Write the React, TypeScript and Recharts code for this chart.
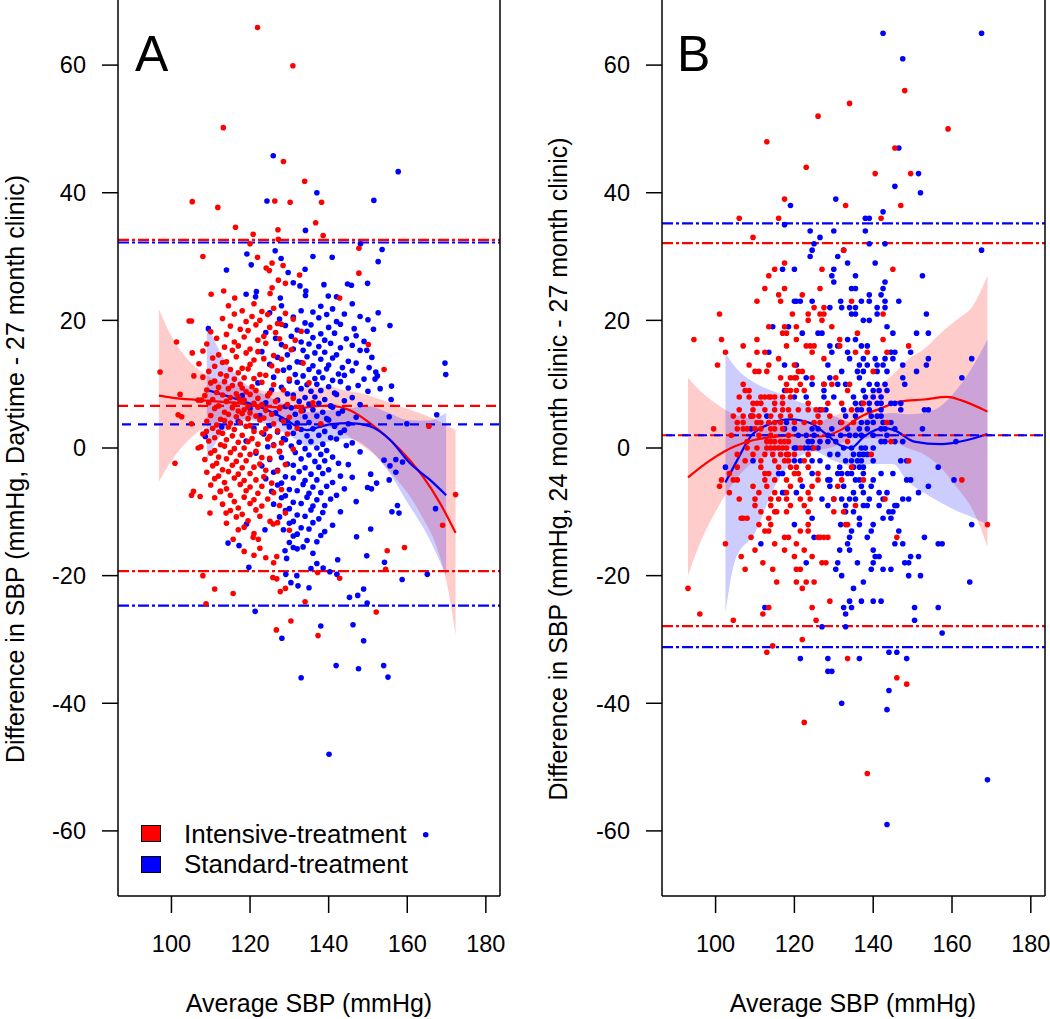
import React from "react";
import { ComposedChart, Scatter, Line, Area, XAxis, YAxis, ReferenceLine } from "recharts";

type P = [number, number];
type Row = [number, number[]];
type B = [number, number, number];

const FONT = '"Liberation Sans", Arial, Helvetica, sans-serif';
const RED = "#ff0000";
const BLUE = "#0000ff";

const xTicks = [100, 120, 140, 160, 180];
const yTicks = [-60, -40, -20, 0, 20, 40, 60];
const xDomain: [number, number] = [86.4, 183.6];
const yDomain: [number, number] = [-70.2, 70.2];

// ---------- panel A (daytime ABPM vs 27 month clinic) ----------
const aRedSparse: P[] = [
  [121.9,65.9],[130.9,59.9],[113.2,50.2],[128.5,44.9],[133.9,41.8],[105.3,38.6],[126.3,38.7],[130.2,38.5],
  [111.8,37.7],[116.3,34.6],[127.1,34.2],[120.8,33.5],[136.7,35.3],[120.0,32.0],[127.2,32.7],[108.0,30.0],
  [121.9,29.9],[124.1,28.2],[124.9,27.8],[125.6,29.0],[128.4,28.6],[132.6,27.1],[127.2,26.3],[129.0,25.8],
  [125.6,25.1],[110.1,24.1],[113.3,24.6],[125.1,24.2],[116.1,23.5],[138.2,38.5],[138.6,33.3],[147.7,31.3],
  [147.7,27.4],[142.8,23.5],[104.5,19.9],[105.1,19.9],[101.3,16.6],[105.3,14.9],[97.1,11.9],[105.7,11.3],
  [102.2,8.4],[106.8,7.5],[107.6,7.5],[101.7,5.2],[102.6,4.9],[105.1,3.8],[100.9,-2.4],[106.8,0],
  [108.9,2.6],[105.6,-6.8],[105.1,-7.4],[107.3,-7.6],[109.8,-10.2],[113.9,-10.2],[112.4,-6.8],[115.7,-14.3],
  [120.8,-14.0],[122.1,-14.3],[122.5,-15.7],[125.1,-11.5],[125.9,-11.9],[124.0,-17.2],[126.8,-17.0],
  [154.1,12.3],[150.1,16.2],[165.5,3.4],[172.3,-7.3],[169.0,-12.1],[154.9,-16.1],[159.3,-15.6],
  [108.0,-20.0],[111.0,-22.1],[115.7,-22.8],[108.8,-24.4],[126.0,-18.0],[125.8,-20.3],[126.8,-20.5],
  [129.0,-22.0],[127.7,-22.5],[134.0,-24.1],[137.2,-19.5],[142.8,-20.4],[152.1,-25.7],[154.5,-19.0],
  [130.4,-27.1],[126.7,-28.5],[137.3,-29.4],
];
const aRedDense: P[] = [
  [114.5,22.3],[118,21.5],[121,22.6],[126,21.9],
  [116,21.0],[120.5,20.6],[123,21.4],[124.5,20.9],[129,21.1],
  [113,20.3],[119,19.8],[122.5,20.0],[127,19.5],[131,20.2],
  [115,19.1],[117.5,18.6],[121.5,19.3],[125,18.9],[128,19.4],
  [110,18.2],[114,17.8],[119.5,18.4],[123.5,17.5],[126.5,18.1],[133,18.3],
  [111.5,17.2],[116,16.6],[118.5,17.4],[122,16.9],[127.5,17.1],[131.5,16.9],
  [109,16.3],[113.5,15.8],[117,16.0],[120,15.5],[124,16.4],[129,15.9],
  [108,15.2],[112,14.6],[115.5,15.3],[119,14.9],[122,15.1],[126,14.5],[130.5,15.4],
  [110.5,14.1],[114,13.5],[116.5,14.3],[121,13.8],[123.5,14.0],[128,13.9],
  [107,13.2],[111,12.8],[113,13.4],[118,12.5],[120,13.1],[125.5,12.9],[133.5,13.3],
  [109.5,12.0],[112.5,11.6],[115,12.3],[117,11.8],[119.5,12.4],[122.5,11.5],[127,12.1],
  [108,11.1],[111,10.5],[114,11.3],[116,10.8],[118.5,11.0],[121,10.9],[124,11.4],[130,10.8],
  [110,10.2],[112,9.5],[113.5,10.4],[115.5,9.8],[117.5,10.0],[120.5,9.6],[123,10.3],[126,9.9],[135,10.2],
  [109,9.1],[111.5,8.7],[114.5,9.3],[116.5,8.5],[118,9.4],[119,8.8],[121.5,9.0],[125,8.6],[128.5,9.1],
  [108.5,8.2],[110.5,7.6],[113,8.3],[115,7.9],[117,8.0],[118.5,7.5],[120,8.4],[122,7.8],[124.5,8.2],[131,7.8],
  [109.5,7.1],[112,6.6],[114,7.3],[116,6.9],[117.5,7.4],[119.5,6.5],[121,7.0],[123,6.8],[126.5,7.3],[129.5,6.8],[136,7.1],
  [111,6.2],[113.5,5.6],[115.5,6.3],[117,5.8],[118.5,6.0],[120,5.5],[122,6.4],[124,5.9],[127.5,6.2],[133,5.8],
  [110,5.1],[112.5,4.5],[114.5,5.3],[116.5,4.9],[118,5.4],[119.5,4.6],[121.5,5.0],[123.5,4.7],[125.5,5.3],[130,4.8],
  [109,4.2],[111.5,3.6],[113.5,4.3],[115,3.9],[117.5,4.0],[120,3.5],[122.5,4.4],[126,3.8],[128.5,4.2],[138,3.8],
  [110.5,3.1],[112,2.5],[114.5,3.3],[116,2.9],[119,3.4],[121,2.6],[124,3.0],[127,2.7],[132,3.1],
  [108,2.2],[111,1.6],[113,2.3],[115.5,1.9],[118,2.0],[120.5,1.5],[123,2.4],[125,1.8],[129.5,2.2],
  [109.5,1.1],[112.5,0.5],[114,1.3],[117,0.9],[119.5,1.0],[122,0.6],[124.5,1.4],[128,0.8],
  [107.5,0.2],[111,-0.4],[113.5,0.3],[116,-0.1],[118.5,0.0],[121.5,-0.5],[126,0.4],[131,-0.2],
  [110,-0.8],[112,-1.4],[115,-0.7],[117.5,-1.1],[120,-1.0],[123,-1.5],[127.5,-0.6],
  [108.5,-1.8],[111.5,-2.4],[114,-1.7],[116.5,-2.1],[119,-2.0],[122.5,-2.5],[125,-1.6],
  [110.5,-2.8],[113,-3.4],[115.5,-2.7],[118,-3.1],[121,-3.0],[124,-3.5],[129,-2.6],
  [109,-3.8],[112,-4.4],[114.5,-3.7],[117,-4.1],[120,-4.0],[123.5,-4.5],[127,-3.6],
  [111,-4.8],[113.5,-5.4],[116,-4.7],[118.5,-5.1],[121.5,-5.0],[125.5,-5.5],
  [110,-5.8],[114,-6.4],[117.5,-5.7],[120,-6.1],[123,-6.0],[128,-6.5],
  [112.5,-6.8],[115,-7.4],[119,-6.7],[122,-7.1],[126,-7.0],
  [111,-7.8],[116,-8.4],[118.5,-7.7],[121,-8.1],[124.5,-8.0],
  [113,-8.8],[117,-9.4],[120,-8.7],[123,-9.1],[127.5,-9.0],
  [115,-9.8],[118,-10.4],[121.5,-9.7],[129,-10.2],
  [116.5,-10.8],[119.5,-11.4],[122.5,-10.7],
  [114,-11.8],[118.5,-12.4],[127,-11.7],
  [117,-12.8],[121,-13.4],[130,-12.9],
  [118.5,-16.2],[121,-16.8],
];
const aBlueSparse: P[] = [
  [125.9,45.8],[137.0,40.0],[124.3,38.7],[134.1,34.1],[119.2,30.4],[127.9,29.7],[136.0,30.0],[126.4,30.9],
  [114.0,27.9],[120.3,28.7],[129.7,27.5],[134.0,28.0],[131.0,25.9],[132.7,25.4],[119.0,24.1],[121.6,24.5],
  [121.4,23.7],[134.2,24.6],[134.1,23.9],[127.7,23.5],[157.7,43.3],[151.5,38.8],[148.1,32.0],[153.6,31.1],
  [140.9,29.9],[152.6,29.2],[138.8,25.6],[144.8,25.7],[145.8,25.5],[149.9,25.8],[139.9,23.8],[142.0,23.7],
  [109.4,18.7],[108.6,1.8],[112.8,3.3],[114.4,-14.9],[117.2,-15.3],[119.1,-11.9],[123.8,-12.8],[128.9,-16.1],
  [131.0,-15.6],[129.3,-17.3],[169.6,13.3],[169.8,11.5],[155.6,19.2],[152.6,21.2],[151.4,18.6],[149.7,15.3],
  [150.3,12.6],[152.0,11.9],[152.4,11.3],[151.8,10.8],[153.1,9.3],[156.0,9.7],[155.9,7.6],[167.5,5.2],
  [159.9,3.8],[155.4,4.9],[154.1,-1.9],[155.6,-2.8],[157.1,-1.8],[157.1,-3.8],[158.8,-2.2],[155.4,-5.0],
  [150.7,-4.1],[152.2,-5.5],[149.9,-6.2],[150.9,-6.4],[167.2,-9.5],[157.5,-9.0],[156.1,-10.0],[157.9,-10.2],
  [150.7,-12.7],[147.1,-13.9],[149.7,-16.9],[119.7,-18.7],[121.3,-25.6],[129.1,-19.8],[130.4,-21.1],
  [131.9,-20.0],[132.2,-21.6],[135.0,-21.9],[135.5,-18.9],[137.0,-18.1],[138.6,-18.8],[140.3,-19.4],
  [142.1,-19.8],[142.3,-17.5],[145.3,-23.4],[147.4,-23.1],[148.9,-22.1],[149.8,-24.3],[154.2,-17.9],
  [158.7,-20.6],[165.1,-19.8],[128.1,-29.8],[138.0,-27.9],[146.2,-27.7],[148.9,-30.2],[141.9,-34.1],
  [147.6,-34.6],[154.0,-34.1],[155.1,-35.9],[133.0,-36.0],[140.1,-48.0],[164.7,-60.6],
];
const aBlueDense: P[] = [
  [128,22.3],[133,21.5],[138,22.2],[141,21.8],[146,22.6],
  [125,21.2],[131,20.5],[136,21.3],[139.5,20.9],[144,21.0],[148,20.6],
  [127.5,20.2],[134,19.6],[137.5,20.4],[142,19.8],[150,20.1],
  [129,19.2],[132,18.5],[135.5,19.3],[140,18.9],[143,19.4],[146.5,18.7],
  [124,18.1],[130.5,17.5],[134.5,18.3],[138,17.9],[141.5,18.0],[147,17.6],
  [126.5,17.2],[133,16.6],[136,17.3],[139,16.9],[144.5,17.1],[149,16.7],
  [128,16.2],[131,15.5],[135,16.3],[137.5,15.9],[140.5,16.4],[143,15.7],[146,16.1],
  [123,15.1],[129.5,14.6],[133.5,15.3],[136.5,14.9],[139,15.0],[142,14.6],[148,15.3],
  [127,14.2],[132,13.5],[134.5,14.3],[138,13.9],[141,14.1],[145,13.6],[151,14.2],
  [125,13.1],[130,12.6],[133,13.4],[136,12.9],[140,13.0],[143.5,12.6],[147,13.3],
  [128.5,12.2],[131.5,11.5],[135,12.3],[137.5,11.9],[139.5,12.4],[142.5,11.6],[146,12.1],
  [126,11.1],[130,10.5],[133.5,11.3],[136.5,10.9],[138.5,11.0],[141,10.6],[144,11.4],[149,10.8],
  [122,10.2],[128,9.5],[132,10.3],[134.5,9.9],[137,10.0],[140,9.6],[143,10.4],[147.5,9.8],
  [125.5,9.1],[129.5,8.5],[133,9.3],[135.5,8.9],[138,9.0],[141.5,8.6],[145,9.4],[150,8.9],
  [118,8.2],[127,7.5],[131,8.3],[134,7.9],[136.5,8.0],[139,7.6],[142,8.4],[146,7.9],
  [124,7.1],[129,6.5],[132.5,7.3],[135,6.9],[137.5,7.0],[140.5,6.6],[144,7.4],[148,6.8],
  [120,6.2],[126.5,5.5],[130.5,6.3],[133.5,5.9],[136,6.0],[138.5,5.6],[141,6.4],[143.5,5.8],
  [122.5,5.1],[128,4.5],[131.5,5.3],[134,4.9],[137,5.0],[139.5,4.6],[142.5,5.4],[147,4.8],
  [117,4.2],[125,3.5],[129.5,4.3],[132,3.9],[135,4.0],[138,3.6],[140,4.4],[145,3.8],
  [121,3.1],[127,2.5],[130,3.3],[133,2.9],[136,3.0],[139,2.6],[141.5,3.4],[144,2.8],
  [123.5,2.2],[128.5,1.5],[131,2.3],[134.5,1.9],[137.5,2.0],[140.5,1.6],[143,2.4],
  [119,1.1],[126,0.5],[129,1.3],[132.5,0.9],[135.5,1.0],[138.5,0.6],[142,1.4],[146,0.8],
  [124.5,0.2],[127.5,-0.5],[130.5,0.3],[134,-0.1],[137,0.0],[139.5,-0.4],[144.5,0.4],
  [121.5,-0.8],[128,-1.5],[131.5,-0.7],[135,-1.1],[138,-1.0],[141,-1.4],[148,-0.6],
  [125,-1.8],[129.5,-2.5],[133,-1.7],[136.5,-2.1],[139,-2.0],[142.5,-2.4],
  [123,-2.8],[127,-3.5],[131,-2.7],[134,-3.1],[137.5,-3.0],[140,-3.4],[145,-2.6],
  [126,-3.8],[129,-4.5],[132.5,-3.7],[135.5,-4.1],[138.5,-4.0],[143,-4.4],
  [124,-4.8],[128,-5.5],[131,-4.7],[134,-5.1],[137,-5.0],[141,-5.4],[146,-4.6],
  [127,-5.8],[130,-6.5],[133.5,-5.7],[136,-6.1],[139.5,-6.0],[144,-6.4],
  [125.5,-6.8],[129,-7.5],[132,-6.7],[135,-7.1],[138,-7.0],[142,-7.4],
  [128,-7.8],[131,-8.5],[134.5,-7.7],[137,-8.1],[140.5,-8.0],[147,-8.4],
  [126,-8.8],[130,-9.5],[133,-8.7],[136,-9.1],[139,-9.0],
  [129,-9.8],[132,-10.5],[135.5,-9.7],[138.5,-10.1],[143,-10.0],
  [127.5,-10.8],[131,-11.5],[134,-10.7],[137.5,-11.1],
  [130,-11.8],[133,-12.5],[136,-11.7],[141,-12.1],
  [128.5,-12.8],[132,-13.5],[135,-12.7],[139,-13.1],
  [131,-13.8],[134.5,-14.5],[138,-13.7],
  [130,-14.8],[133.5,-15.5],[137,-14.7],
  [132,-15.8],[136,-16.5],
];
const aRedCurve: P[] = [
  [96.8,8.2],[100,7.9],[107.3,7.5],[117.4,7.0],[125.8,6.4],[132.7,6.3],[137.8,6.6],[140.3,6.6],
  [145.4,5.9],[150.5,3.9],[155.6,1.3],[159.9,-1.4],[164.0,-4.5],[168.3,-8.6],[172.3,-13.3],
];
const aBlueCurve: P[] = [
  [109.0,9.1],[117.4,7.5],[124.2,6.0],[129.3,4.4],[132.7,3.1],[134.5,2.8],[137,3.2],[140.3,3.7],
  [145.4,3.9],[150.5,3.4],[155.6,1.3],[160.7,-2.4],[165.8,-5.0],[169.9,-7.4],
];
const aRedBand: B[] = [
  [96.8,-5.3,21.8],[100,-2.0,17.5],[104,1.0,14.0],[108,3.0,11.8],[112,4.0,10.5],[116,4.5,9.8],
  [120,4.6,9.4],[125,4.2,8.8],[130,3.8,8.8],[135,3.5,9.5],[140,3.2,9.6],[143.7,2.3,9.1],
  [148,0.6,8.6],[152.3,-1.4,7.8],[156,-4.0,7.0],[160.7,-7.6,6.0],[164,-11,5.3],[167.5,-15.5,4.4],
  [170,-21,3.6],[172.3,-29.3,2.8],
];
const aBlueBand: B[] = [
  [109,-1.9,19.8],[112,1.5,15.5],[116,3.5,11.8],[120,4.3,9.5],[125,3.5,8.0],[130,2.0,6.5],
  [135,0.3,5.6],[140,1.0,5.9],[145,1.5,6.2],[150,0.0,6.6],[155,-3.5,5.6],[160,-8.5,4.4],
  [165,-13.5,4.3],[169.9,-20,5.5],
];
const aLines = { redMean: 6.6, blueMean: 3.7, redUpper: 32.6, blueUpper: 32.2, redLower: -19.3, blueLower: -24.7 };

// ---------- panel B (24 month clinic vs 27 month clinic) ----------
const bRedSparse: P[] = [
  [134,54],[126,52],[113,48],[123,44],[117.5,39],[133,38],[106,36],[116,36],[109.5,33],[132.5,31],
  [117.5,29],[115,28],[127,28],[113.5,27],[112.5,25],[117.5,25],[126.5,25],[116,24],[122,24],
  [148,56],[159,50],[145.5,47],[140.5,43],[149.5,43],[147,38],[142,36],[145,28],
  [93,-22],[96,-26],[104.5,-27],[107.5,-19],[112,-18],[114.5,-19],[115.5,-21],[112,-26],[113.5,-25],
  [114.5,-31],[113,-32],[120.5,-19],[121.5,-19],[120.5,-21],[122,-22],[123,-21],[125,-21],[127,-18],
  [128,-18],[129,-24],[124.5,-25],[125.5,-27],[122,-30],[133.5,-33],[146,-36],[148.5,-37],[122.5,-43],
  [138.5,-51],
];
const bRedRows: Row[] = [
  [23,[110.5,116.5,134.5]],
  [22,[125,127.5]],
  [21,[101,119.5,123.5,126.5,127.5,142.5]],
  [20,[123.5,127]],
  [19,[113.5,117.5,120.5,129.5]],
  [18,[117,118,136]],
  [17,[94.5,101.5,110.5,120.5,131.5,142.5]],
  [16,[107,118,123,124,125,131.5,149]],
  [15,[102.5,110.5,112.5,124.5,135.5,138.5,143.5]],
  [14,[116,127.5]],
  [13,[100.5,108.5,113.5,120]],
  [12,[110,111,113,121,122,140]],
  [11,[116.5,119,120,120.5,124.5,130.5]],
  [10,[107,118,121.5,127.5,129.5,134]],
  [9,[107.5,108.5,118,119,120.5,122.5,133.5]],
  [8,[106,108.5,111.5,112.5,113.5,114,115,117,119]],
  [7,[109.5,110.5,111.5,115,117,123.5,128.5,132,137.5]],
  [6,[106,109.5,112.5,115,117,118.5,121,123.5,125.5,127,134.5]],
  [5,[104.5,107,109,109.5,111,114,116.5,119,126,129]],
  [4,[105.5,107,110.5,111.5,113.5,115,116.5,120,122.5,125,126.5,132,135,143.5]],
  [3,[99.5,105.5,107,108,110,111.5,114,115,117]],
  [2,[104,111,114,118.5]],
  [1,[108,113,114,115,116.5,117.5,118.5,133.5,144.5]],
  [0,[108,110.5,113,114,115,116,117,118,121.5,125]],
  [-1,[105.5,109.5,112.5,114.5,116.5,118,118.5,120,123.5,139.5]],
  [-2,[107.5,111.5,115,117.5,118.5,122.5,149]],
  [-3,[105.5,111.5,116,119,120.5,123.5,134.5]],
  [-4,[103.5,112.5,113.5,120,121,126]],
  [-5,[101.5,104.5,105.5,112.5,115,118,121.5,126,132,137.5,162.5]],
  [-6,[101,109.5,113,119,124.5,131]],
  [-7,[103.5,111,115,118,123.5]],
  [-8,[106,110,114,116,118,121.5,124,130,143]],
  [-9,[110,114,119,122.5,135.5]],
  [-10,[111.5,115,115.5,118,123.5,130,132.5]],
  [-11,[106.5,107,108,113.5]],
  [-12,[111,114,123.5,133,133.5,169]],
  [-13,[112.5,113.5,121.5,123.5]],
  [-14,[109,117.5,118.5,126,126.5,127.5,128.5,146]],
  [-15,[102.5,115,120.5]],
  [-16,[110,117.5,122.5]],
  [-17,[106.5,120,124.5]],
];
const bBlueSparse: P[] = [
  [119,38],[130.5,39],[117.5,35],[124,34],[130,34],[126.5,33],[125,32],[124.5,31],[124,30],[132.5,31],
  [131,30],[133.5,29],[117,28],[120,28],[130,28],[129.5,27],[130,26],[134.5,25],
  [142.5,65],[167.5,65],[147.5,61],[146.5,47],[151.5,43],[145.5,41],[152,40],[142.5,37],[138,36],
  [139,36],[138,34],[139,32],[143,32],[167.5,31],[140.5,29],[135.5,27],[152.5,27],[143,26],[135.5,25],
  [142.5,25],[139,24],[142,24],
  [112.5,-25],[123,-18],[131,-18],[130.5,-19],[132,-20],[136,-18],[135,-22],[137.5,-21],[139.5,-19],
  [140,-18],[142.5,-19],[144.5,-19],[148,-18],[149,-18],[149,-20],[152,-20],[164.5,-21],[132.5,-25],
  [134.5,-25],[134,-24],[133,-26],[137,-24],[140,-24],[142,-24],[150.5,-25],[150.5,-27],[156.5,-25],
  [157.5,-29],[127,-28],[133,-28],[121.5,-33],[128.5,-33],[136.5,-33],[128.5,-35],[129.5,-35],[144,-32],
  [146,-32],[148.5,-33],[144,-38],[143.5,-41],[132,-40],[169,-52],[143.5,-59],
];
const bBlueRows: Row[] = [
  [23,[120,120.5,121.5,124.5,131.75,137,139,143,146.5]],
  [22,[129,132,134,135.5,141,143]],
  [21,[134.5,135.5,141,153.5]],
  [20,[137.5,139]],
  [19,[114.5,118.5,143.5]],
  [18,[122,126,127,145,151,154]],
  [17,[133.5,135.5]],
  [16,[129,131,137,138.5]],
  [15,[113.5,129.5,133.5,144.5,145.5,149.5]],
  [14,[134,137.5,140.5,143,145,154,165]],
  [13,[117.5,120.5,128.5,136.5,138.5,141,142.5,147.5,153.5]],
  [12,[132,136,137.5,141,143.5,151]],
  [11,[123,129,136.5,147.5,162.5]],
  [10,[124.5,127.5,131,133,139,141,143,148]],
  [9,[117.5,127.5,137.5,140,141.5,143.5]],
  [8,[120,123,127.5,130,135,138,140,142]],
  [7,[135.5,137,139,141,142,144.5,145.5,147]],
  [6,[126.5,128,132.5,136,137,139,142,147,153,154]],
  [5,[109,113,133,135.5,139.5,141,142]],
  [4,[118,131.75,137,138.5,140,142.5,144.5]],
  [3,[109,117.5,120,124.5,126,129.5,133.5,136.5,138.5,142,143,145.5,152.5]],
  [2,[121,123,125,128.5,131.75,134,135.5,137,140,143.5]],
  [1,[123.5,124.5,126.5,128.5,130.5,142,143,145.5,147.5,161]],
  [0,[120,120.5,122.5,123.5,124.5,126,132.5,134.5,137,138,140]],
  [-1,[129,131,135,136.5,137.5,138.5]],
  [-2,[109.5,120,121.5,124.5,126.5,133,134.5,136,137,140,147,148.5]],
  [-3,[102.5,128.5,131.5,135,136.5,137.5,156.5]],
  [-4,[116,117,124.5,131,132,133.5,134.5,137.5,142,145]],
  [-5,[128.5,129,135.5,136.5,140,148.5,149.5,160.5]],
  [-6,[122,129,132.5,137,139.5,154]],
  [-7,[117,117.5,120.5,135,137.5,141.5,143.5,151.5]],
  [-8,[127,130,132,134,135.5,139,142.5,147.5,149]],
  [-9,[128.5,133,137.5,138.5,141.5,145.5,146]],
  [-10,[133,135,144,145]],
  [-11,[124.5,136.5,142.5,144.5]],
  [-12,[120,131.75,136.5,140,165]],
  [-13,[134.5,139.5,146.5]],
  [-14,[125,134,138.5,153]],
  [-15,[111.5,133.5,145.5,147.5,156.5,157.5]],
  [-16,[131.5,134,140]],
  [-17,[140.5,141.5,149.5,151.5]],
];
const bRedCurve: P[] = [
  [93.0,-4.6],[98.7,-1.9],[104.6,0.2],[109.7,1.25],[115.7,1.8],[121.6,2.0],[126.7,1.8],[131.7,2.8],
  [136.8,4.9],[141.9,6.2],[147.0,7.3],[152.9,7.6],[158.8,8.0],[162.2,7.5],[169.0,5.7],
];
const bBlueCurve: P[] = [
  [102.5,-5.4],[105.5,-1.9],[108.9,1.8],[113.1,3.6],[119.0,4.5],[124.1,3.9],[128.4,2.0],[131.7,0.4],
  [134.3,0.0],[137.7,1.8],[142.7,3.1],[145.3,2.8],[150.4,1.0],[157.1,0.6],[163.9,1.25],[169.0,2.2],
];
const bRedBand: B[] = [
  [93,-20,11],[96,-15,9],[100,-10,7],[105,-5,5.2],[110,-2,4.5],[115,-0.5,4.0],[120,0,4.0],
  [125,-0.3,4.0],[130,0.2,5.0],[135,1.5,6.5],[140,1.5,9],[145,1.0,11.5],[148.7,0,13.8],
  [152.9,-1,15.5],[157.1,-3,18.0],[161,-6,20],[165.5,-10,22.5],[169,-15.5,27],
];
const bBlueBand: B[] = [
  [102.5,-25.8,14.9],[105,-17.5,12.7],[110,-13.3,10.2],[115,-6.0,8.8],[120,-1.9,7.5],[125,-0.6,6.4],
  [130,-2.0,5.0],[135,-2.8,4.0],[140,-2.5,5.0],[145,-2.5,5.5],[148.7,-5.2,5.3],[152.9,-7.0,5.5],
  [157,-8.5,6.5],[161,-9.8,9],[165,-10.8,12.5],[169,-12,17],
];
const bLines = { redMean: 2.0, blueMean: 2.0, redUpper: 32.1, blueUpper: 35.2, redLower: -27.9, blueLower: -31.2 };

const toPts = (ps: P[]) => ps.map(([x, y]) => ({ x, y }));
const fromRows = (rows: Row[]) => rows.flatMap(([y, xs]) => xs.map((x) => ({ x, y })));
const toBand = (bs: B[]) => bs.map(([x, lo, hi]) => ({ x, band: [lo, hi] }));

const dot = (color: string) => (props: any) => (
  <circle cx={props.cx} cy={props.cy} r={2.8} fill={color} />
);

const tickStyle = { fontSize: 23.5, fill: "#000", fontFamily: FONT };
const axisStroke = { stroke: "#000", strokeWidth: 1.5 };

interface PanelProps {
  red: { x: number; y: number }[];
  blue: { x: number; y: number }[];
  redCurve: P[];
  blueCurve: P[];
  redBand: B[];
  blueBand: B[];
  lines: typeof aLines;
  width: number;
  right: number;
}

function Panel({ red, blue, redCurve, blueCurve, redBand, blueBand, lines, width, right }: PanelProps) {
  const dash = "10 6";
  const dashDot = "11 3 3 3";
  return (
    <ComposedChart width={width} height={1019} margin={{ top: 0, right, left: 0, bottom: 0 }}>
      <XAxis
        type="number" dataKey="x" domain={xDomain} ticks={xTicks} interval={0} allowDataOverflow
        height={123} tickSize={17} tickMargin={22} tick={tickStyle}
        axisLine={axisStroke} tickLine={axisStroke}
      />
      <YAxis
        type="number" dataKey="y" domain={yDomain} ticks={yTicks} interval={0} allowDataOverflow
        width={118} tickSize={16} tickMargin={16} tick={tickStyle}
        axisLine={axisStroke} tickLine={axisStroke}
      />
      <Scatter data={blue} fill={BLUE} shape={dot(BLUE)} isAnimationActive={false} />
      <Scatter data={red} fill={RED} shape={dot(RED)} isAnimationActive={false} />
      <Area
        data={toBand(redBand)} dataKey="band" type="monotone" stroke="none"
        fill={RED} fillOpacity={0.2} isAnimationActive={false} activeDot={false}
      />
      <Line
        data={toPts(redCurve)} dataKey="y" type="monotone" stroke={RED} strokeWidth={2.2}
        dot={false} activeDot={false} isAnimationActive={false}
      />
      <Area
        data={toBand(blueBand)} dataKey="band" type="monotone" stroke="none"
        fill={BLUE} fillOpacity={0.2} isAnimationActive={false} activeDot={false}
      />
      <Line
        data={toPts(blueCurve)} dataKey="y" type="monotone" stroke={BLUE} strokeWidth={2.2}
        dot={false} activeDot={false} isAnimationActive={false}
      />
      <ReferenceLine y={lines.redUpper} stroke={RED} strokeWidth={2.2} strokeDasharray={dashDot} />
      <ReferenceLine y={lines.blueUpper} stroke={BLUE} strokeWidth={2.2} strokeDasharray={dashDot} />
      <ReferenceLine y={lines.redLower} stroke={RED} strokeWidth={2.2} strokeDasharray={dashDot} />
      <ReferenceLine y={lines.blueLower} stroke={BLUE} strokeWidth={2.2} strokeDasharray={dashDot} />
      <ReferenceLine y={lines.redMean} stroke={RED} strokeWidth={2.2} strokeDasharray={dash} />
      <ReferenceLine y={lines.blueMean} stroke={BLUE} strokeWidth={2.2} strokeDasharray="9 7" strokeDashoffset={12} />
      <ReferenceLine x={xDomain[1]} stroke="#000" strokeWidth={1.5} />
    </ComposedChart>
  );
}

const abs = (left: number, top: number, extra: React.CSSProperties = {}): React.CSSProperties => ({
  position: "absolute", left, top, fontFamily: FONT, color: "#000", whiteSpace: "nowrap", lineHeight: 1, ...extra,
});

function YTitle({ cx, text }: { cx: number; text: string }) {
  return (
    <div style={abs(cx, 469, { fontSize: 25, transform: "translate(-50%, -50%) rotate(-90deg)" })}>{text}</div>
  );
}

export default function App() {
  const aRed = [...toPts(aRedSparse), ...toPts(aRedDense)];
  const aBlue = [...toPts(aBlueSparse), ...toPts(aBlueDense)];
  const bRed = [...toPts(bRedSparse), ...fromRows(bRedRows)];
  const bBlue = [...toPts(bBlueSparse), ...fromRows(bBlueRows)];
  return (
    <div style={{ position: "absolute", left: 0, top: 0, width: 1050, height: 1019, background: "#fff", overflow: "hidden" }}>
      <div style={{ position: "absolute", left: 0, top: 0 }}>
        <Panel red={aRed} blue={aBlue} redCurve={aRedCurve} blueCurve={aBlueCurve}
          redBand={aRedBand} blueBand={aBlueBand} lines={aLines} width={520} right={20} />
      </div>
      <div style={{ position: "absolute", left: 544, top: 0 }}>
        <Panel red={bRed} blue={bBlue} redCurve={bRedCurve} blueCurve={bBlueCurve}
          redBand={bRedBand} blueBand={bBlueBand} lines={bLines} width={506} right={5} />
      </div>

      <div style={abs(135, 29, { fontSize: 50 })}>A</div>
      <div style={abs(677, 29, { fontSize: 50 })}>B</div>

      <YTitle cx={15} text="Difference in SBP (mmHg, Daytime - 27 month clinic)" />
      <YTitle cx={558} text="Difference in SBP (mmHg, 24 month clinic - 27 month clinic)" />

      <div style={abs(309, 991, { fontSize: 25, transform: "translateX(-50%)" })}>Average SBP (mmHg)</div>
      <div style={abs(853, 991, { fontSize: 25, transform: "translateX(-50%)" })}>Average SBP (mmHg)</div>

      <div style={abs(141, 825, { width: 18, height: 15, background: RED, border: "1px solid #000" })} />
      <div style={abs(184, 821, { fontSize: 26 })}>Intensive-treatment</div>
      <div style={abs(141, 856, { width: 18, height: 15, background: BLUE, border: "1px solid #000" })} />
      <div style={abs(184, 851, { fontSize: 26 })}>Standard-treatment</div>
    </div>
  );
}
